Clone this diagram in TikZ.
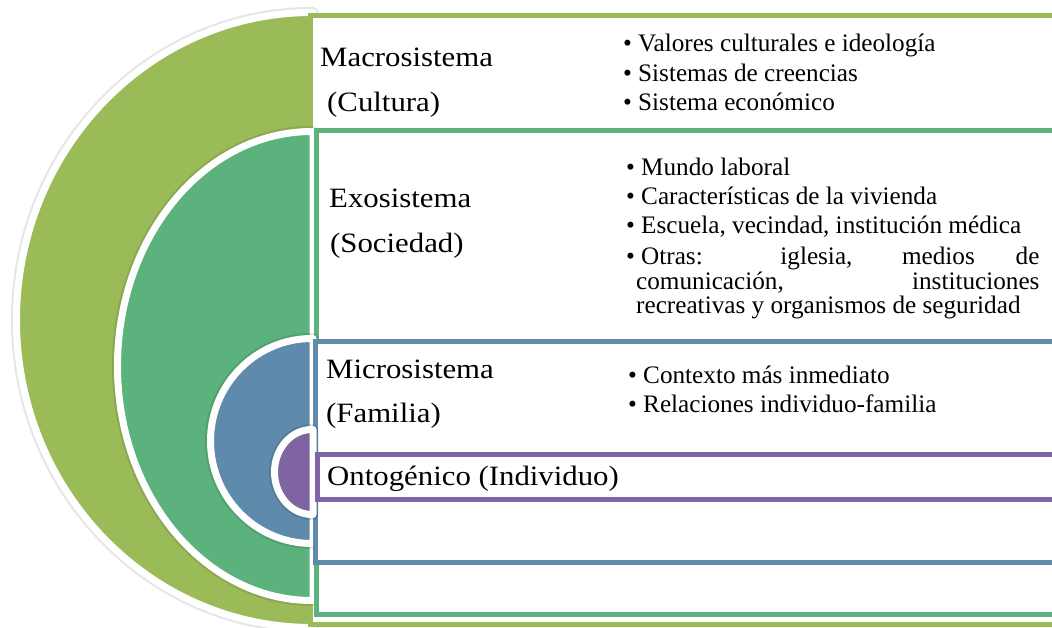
\documentclass[tikz,border=0pt]{standalone}
\usepackage{fontspec}
\setmainfont{Liberation Serif}
\newfontfamily\headfont[FakeStretch=1.1]{Liberation Serif}
\newfontfamily\bulfont{Liberation Serif}
\definecolor{cmacro}{HTML}{9BBB59}
\definecolor{cexo}{HTML}{5BB27C}
\definecolor{cmicro}{HTML}{5E8BAC}
\definecolor{conto}{HTML}{8064A2}
\tikzset{
  layer/.style={fill=#1, draw=white, line width=7pt, line join=round},
  shade/.style={draw=black, draw opacity=0.10, line width=11pt, line join=round},
  band/.style={fill=white, draw=#1, line width=5pt},
  head/.style={anchor=base west, inner sep=0pt, font=\headfont\fontsize{28}{30}\selectfont},
  bul/.style={anchor=base west, inner sep=0pt, font=\bulfont\fontsize{25.2}{29}\selectfont},
}
\newcommand{\bl}{\makebox[15pt][l]{•}}
\begin{document}
\begin{tikzpicture}[x=1pt,y=-1pt]
\useasboundingbox (0,0) rectangle (1052,628);
\clip (0,0) rectangle (1052,628);
% Macrosistema
\path[shade] (313,627.5) -- (312,627.5) arc[start angle=90,end angle=270,x radius=295.5,y radius=307.5] -- (313,12.5) -- cycle;
\path[layer=cmacro] (313,627.5) -- (312,627.5) arc[start angle=90,end angle=270,x radius=295.5,y radius=307.5] -- (313,12.5) -- cycle;
\draw[band=cmacro] (310.5,15.5) rectangle (1075,624);
% Exosistema
\path[shade] (313,600.5) -- (312,600.5) arc[start angle=90,end angle=270,x radius=194.5,y radius=234.5] -- (313,131.5) -- cycle;
\path[layer=cexo] (313,600.5) -- (312,600.5) arc[start angle=90,end angle=270,x radius=194.5,y radius=234.5] -- (313,131.5) -- cycle;
\draw[band=cexo] (316,130.5) rectangle (1075,614);
% Microsistema
\path[shade] (313,543.5) -- (312,543.5) arc[start angle=90,end angle=270,x radius=101.5,y radius=102.5] -- (313,338.5) -- cycle;
\path[layer=cmicro] (313,543.5) -- (312,543.5) arc[start angle=90,end angle=270,x radius=101.5,y radius=102.5] -- (313,338.5) -- cycle;
\draw[band=cmicro] (315,341.5) rectangle (1075,562);
% Ontogenico
\path[shade] (313,514.5) -- (312,514.5) arc[start angle=90,end angle=270,x radius=37.5,y radius=42.5] -- (313,429.5) -- cycle;
\path[layer=conto] (313,514.5) -- (312,514.5) arc[start angle=90,end angle=270,x radius=37.5,y radius=42.5] -- (313,429.5) -- cycle;
\draw[band=conto] (317.5,454) rectangle (1075,499);
% headings
\node[head] (h1) at (320,67) {Macrosistema};
\node[head] (h1b) at (327,111.5) {(Cultura)};
\node[head] (h2) at (329,208) {Exosistema};
\node[head] (h2b) at (330,252.5) {(Sociedad)};
\node[head] (h3) at (326,378) {Microsistema};
\node[head] (h3b) at (326,422) {(Familia)};
\node[head] (h4) at (327,485) {Ontogénico (Individuo)};
% macro bullets
\node[bul] (m1) at (623,52) {\bl Valores culturales e ideología};
\node[bul] (m2) at (623,81.5) {\bl Sistemas de creencias};
\node[bul] (m3) at (623,111) {\bl Sistema económico};
% exo bullets
\node[bul] (e1) at (626,175.5) {\bl Mundo laboral};
\node[bul] (e2) at (626,204.5) {\bl Características de la vivienda};
\node[bul] (e3) at (626,234) {\bl Escuela, vecindad, institución médica};
\node[bul] (e4) at (626,265) {\bl\makebox[398.3pt][s]{Otras: iglesia, medios de}};
\node[bul] (e5) at (636,289.5) {\makebox[403.3pt][s]{comunicación, instituciones}};
\node[bul] (e6) at (636,313.5) {recreativas y organismos de seguridad};
% micro bullets
\node[bul] (c1) at (628,383.5) {\bl Contexto más inmediato};
\node[bul] (c2) at (628,412) {\bl Relaciones individuo-familia};
\end{tikzpicture}
\end{document}
